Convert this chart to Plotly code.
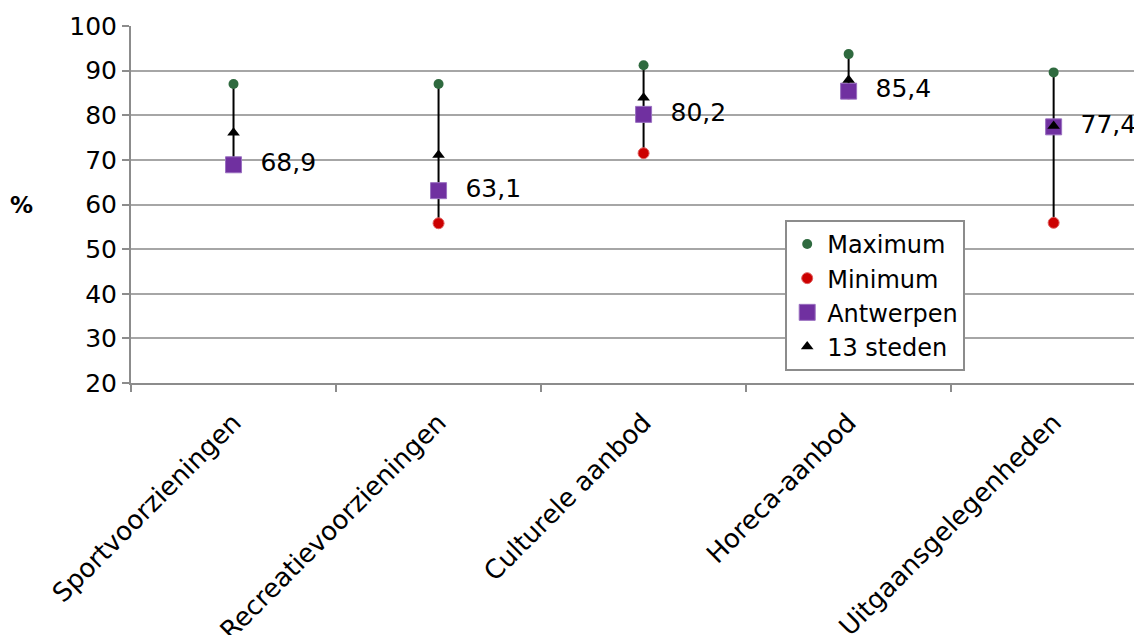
import plotly.graph_objects as go

categories = ["Sportvoorzieningen", "Recreatievoorzieningen", "Culturele aanbod",
              "Horeca-aanbod", "Uitgaansgelegenheden"]
maximum = [87.0, 87.0, 91.2, 93.7, 89.6]
minimum = [68.5, 55.8, 71.5, 84.9, 55.9]
antwerpen = [68.9, 63.1, 80.2, 85.4, 77.4]
steden13 = [76.1, 71.1, 83.9, 87.9, 77.6]
y_ticks = [20, 30, 40, 50, 60, 70, 80, 90, 100]

FONT = "DejaVu Sans"
FS = 25

# high-low line segments built from min/max arrays
lx, ly = [], []
for c, lo, hi in zip(categories, minimum, maximum):
    lx += [c, c, None]
    ly += [lo, hi, None]

fig = go.Figure()
fig.add_trace(go.Scatter(x=lx, y=ly, mode="lines", line=dict(color="black", width=2),
                         showlegend=False, hoverinfo="skip"))
fig.add_trace(go.Scatter(x=categories, y=maximum, mode="markers", name="Maximum",
                         marker=dict(symbol="circle", size=10, color="#2F6A3F",
                                     line=dict(width=0))))
fig.add_trace(go.Scatter(x=categories, y=minimum, mode="markers", name="Minimum",
                         marker=dict(symbol="circle", size=11, color="#CC0000",
                                     line=dict(width=1, color="#E06060"))))
fig.add_trace(go.Scatter(x=categories, y=antwerpen, mode="markers+text", name="Antwerpen",
                         marker=dict(symbol="square", size=16, color="#7030A0",
                                     line=dict(width=1, color="#9A70C0")),
                         text=["  " + f"{v:.1f}".replace(".", ",") for v in antwerpen],
                         textposition="middle right",
                         textfont=dict(family=FONT, size=FS, color="black")))
fig.add_trace(go.Scatter(x=categories, y=steden13, mode="markers", name="13 steden",
                         marker=dict(symbol="triangle-up", size=11, color="black")))

fig.update_layout(
    width=1142, height=635,
    margin=dict(l=123, r=0, t=18, b=260),
    paper_bgcolor="white", plot_bgcolor="white",
    font=dict(family=FONT, size=FS, color="black"),
    legend=dict(x=0.642, y=0.457, xanchor="left", yanchor="top",
                bgcolor="white", bordercolor="#8C8C8C", borderwidth=2,
                font=dict(family=FONT, size=24), tracegroupgap=0,
                itemwidth=30, itemsizing="trace"),
    xaxis=dict(type="category", categoryorder="array", categoryarray=categories,
               range=[-0.5, 4.47], showgrid=False, showline=True,
               linecolor="#8C8C8C", linewidth=2, ticks="outside", tickson="boundaries",
               ticklen=7, tickcolor="#8C8C8C", tickwidth=2, tickangle=-45,
               ticklabelstandoff=12,
               tickfont=dict(family=FONT, size=26), automargin=False),
    yaxis=dict(range=[20, 100], tickvals=y_ticks, showgrid=True, gridcolor="#A6A6A6",
               gridwidth=2, showline=True, linecolor="#8C8C8C", linewidth=2,
               ticks="outside", ticklen=7, tickcolor="#8C8C8C", tickwidth=2,
               zeroline=False, tickfont=dict(family=FONT, size=FS), automargin=False),
    annotations=[dict(text="<b>%</b>", x=-0.107, y=60, xref="paper", yref="y",
                      xanchor="center", yanchor="middle",
                      showarrow=False, font=dict(family=FONT, size=23))],
)

fig.write_html("out.html")
